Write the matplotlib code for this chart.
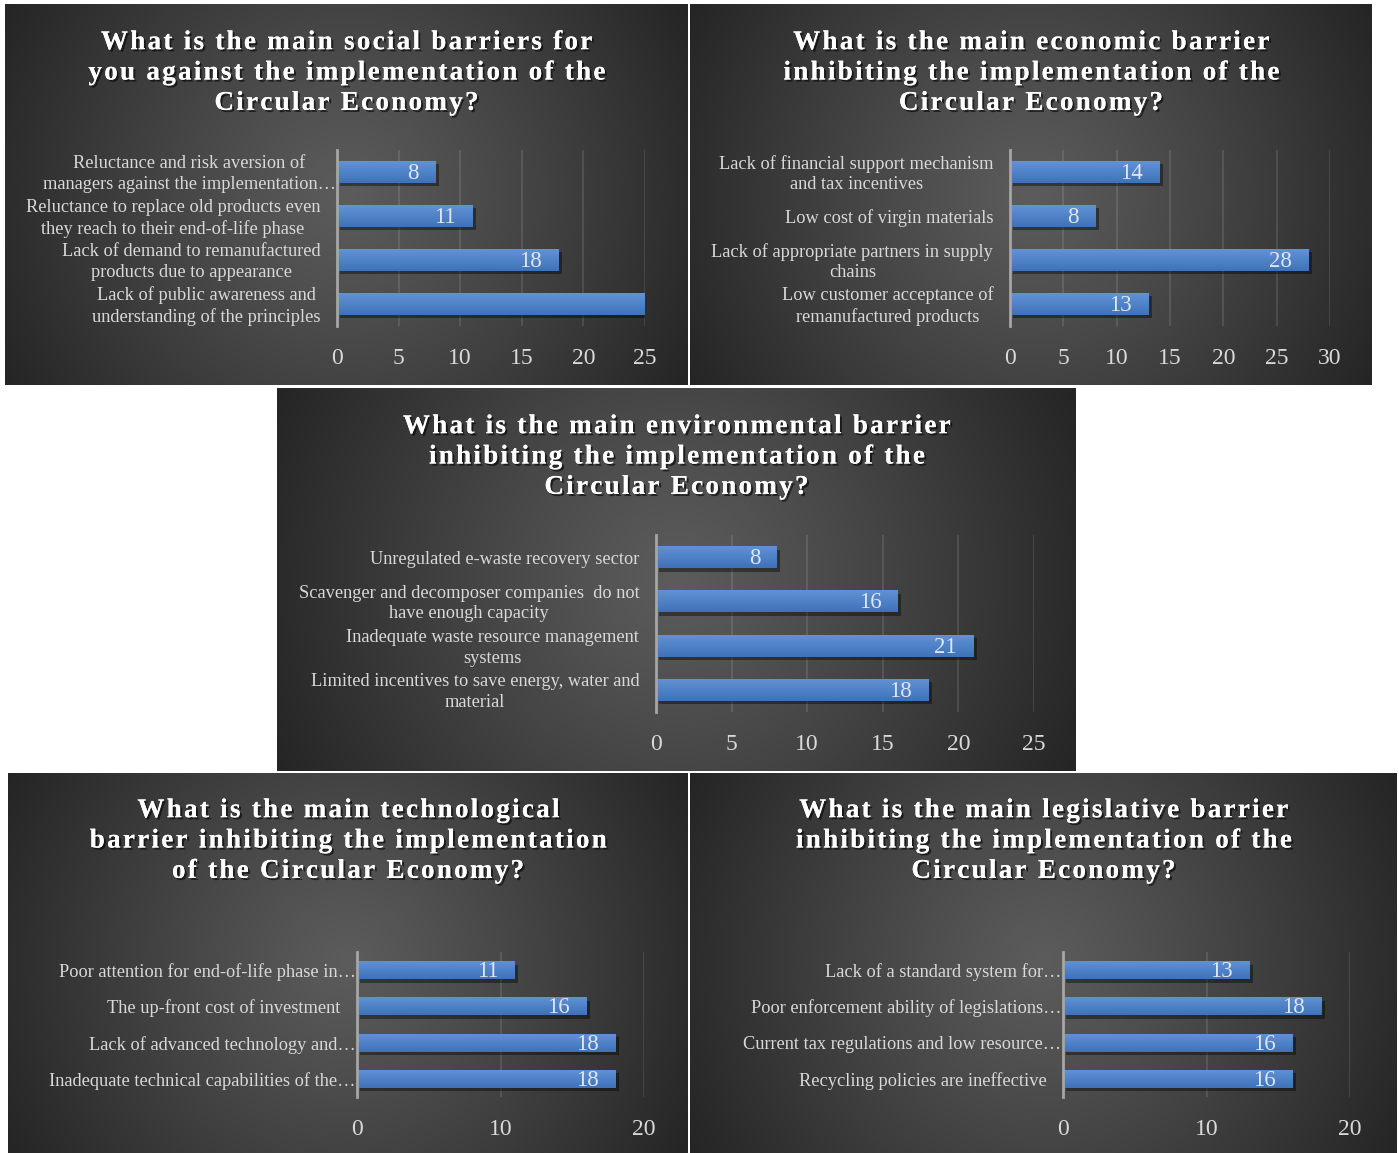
import numpy as np
import matplotlib
matplotlib.use('Agg')
import matplotlib.pyplot as plt
import matplotlib.patheffects as pe
from matplotlib.colors import LinearSegmentedColormap

# ---- data ----
social_title = 'What is the main social barriers for\nyou against the implementation of the\nCircular Economy?'
social_labels = ['Reluctance and risk aversion of\nmanagers against the implementation\u2026',
                 'Reluctance to replace old products even\nthey reach to their end-of-life phase',
                 'Lack of demand to remanufactured\nproducts due to appearance',
                 'Lack of public awareness and\nunderstanding of the principles']
social_values = [8, 11, 18, 25]
social_ticks = [0, 5, 10, 15, 20, 25]

economic_title = 'What is the main economic barrier\ninhibiting the implementation of the\nCircular Economy?'
economic_labels = ['Lack of financial support mechanism\nand tax incentives',
                   'Low cost of virgin materials',
                   'Lack of appropriate partners in supply\nchains',
                   'Low customer acceptance of\nremanufactured products']
economic_values = [14, 8, 28, 13]
economic_ticks = [0, 5, 10, 15, 20, 25, 30]

environmental_title = 'What is the main environmental barrier\ninhibiting the implementation of the\nCircular Economy?'
environmental_labels = ['Unregulated e-waste recovery sector',
                        'Scavenger and decomposer companies  do not\nhave enough capacity',
                        'Inadequate waste resource management\nsystems',
                        'Limited incentives to save energy, water and\nmaterial']
environmental_values = [8, 16, 21, 18]
environmental_ticks = [0, 5, 10, 15, 20, 25]

technological_title = 'What is the main technological\nbarrier inhibiting the implementation\nof the Circular Economy?'
technological_labels = ['Poor attention for end-of-life phase in\u2026',
                        'The up-front cost of investment',
                        'Lack of advanced technology and\u2026',
                        'Inadequate technical capabilities of the\u2026']
technological_values = [11, 16, 18, 18]
technological_ticks = [0, 10, 20]

legislative_title = 'What is the main legislative barrier\ninhibiting the implementation of the\nCircular Economy?'
legislative_labels = ['Lack of a standard system for\u2026',
                      'Poor enforcement ability of legislations\u2026',
                      'Current tax regulations and low resource\u2026',
                      'Recycling policies are ineffective']
legislative_values = [13, 18, 16, 16]
legislative_ticks = [0, 10, 20]

W, H = 1399, 1153
SERIF = ['Liberation Serif', 'DejaVu Serif']
TXT = '#d9d9d9'

bar_cmap = LinearSegmentedColormap.from_list('bar', ['#6393d6', '#3e72b9'])


def fig_rect(x0, y0, x1, y1):
    return [x0 / W, 1 - y1 / H, (x1 - x0) / W, (y1 - y0) / H]


def tracked(s):
    # hair spaces between letters to mimic the wide tracking of the titles
    return '\n'.join('\u200a'.join(line) for line in s.split('\n'))


def background(fig, box):
    x0, y0, x1, y1 = box
    w, h = x1 - x0, y1 - y0
    xx, yy = np.meshgrid(np.linspace(-w / 2, w / 2, 200), np.linspace(-h / 2, h / 2, 120))
    r = np.sqrt(xx ** 2 + yy ** 2) / np.hypot(w / 2, h / 2)
    r = np.clip(r, 0, 1) ** 1.1
    c0, c1 = np.array([0x5c, 0x5c, 0x5c]) / 255, np.array([0x25, 0x25, 0x25]) / 255
    img = c0[None, None, :] + (c1 - c0)[None, None, :] * r[:, :, None]
    ax = fig.add_axes(fig_rect(*box), zorder=0)
    ax.imshow(img, extent=[0, 1, 0, 1], aspect='auto', interpolation='bilinear')
    ax.set_axis_off()


def panel(fig, box, plot_box, title, title_y, labels, values, ticks):
    background(fig, box)
    cx = (box[0] + box[2]) / 2
    fig.text(cx / W, 1 - title_y / H, tracked(title), ha='center', va='center',
             family=SERIF, fontweight='bold', fontsize=19.5, color='white',
             linespacing=1.28, zorder=5,
             path_effects=[pe.withSimplePatchShadow(offset=(1.5, -1.5), shadow_rgbFace='black', alpha=0.6),
                           pe.Normal()])

    ax = fig.add_axes(fig_rect(*plot_box), zorder=2)
    ax.patch.set_alpha(0)
    y = np.arange(len(values))
    bars = ax.barh(y, values, height=0.5, color='#4a7fc4', zorder=3,
                   path_effects=[pe.withSimplePatchShadow(offset=(2.5, -2.5), shadow_rgbFace='black', alpha=0.4),
                                 pe.Normal()])
    grad = np.linspace(0, 1, 64).reshape(-1, 1)
    for yi, v, b in zip(y, values, bars):
        im = ax.imshow(grad, extent=[0, v, yi + 0.25, yi - 0.25], aspect='auto',
                       cmap=bar_cmap, zorder=4, interpolation='bilinear')
        im.set_clip_path(b)
        if v < ticks[-1]:
            ax.annotate(str(v), (v, yi), xytext=(-12, -1), textcoords='offset points',
                        ha='right', va='center', family=SERIF, fontsize=16.5,
                        color='#dfe6ee', zorder=6)

    # category labels: cut-off labels run up to the axis line, the rest keep a gap
    for yi, lab in zip(y, labels):
        off = -1 if lab.endswith('\u2026') else -12
        ax.annotate(lab, (0, yi), xycoords=('axes fraction', 'data'), xytext=(off, -1.5),
                    textcoords='offset points', ha='right', va='center', multialignment='center',
                    family=SERIF, fontsize=13.2, color=TXT, linespacing=1.3, zorder=6)

    ax.set_xlim(0, ticks[-1])
    ax.set_ylim(len(values) - 0.5, -0.5)
    ax.set_xticks(ticks)
    ax.set_yticks(y)
    ax.set_yticklabels([])
    ax.tick_params(axis='x', length=0, pad=16, labelsize=17, labelcolor=TXT)
    ax.tick_params(axis='y', length=0)
    for lab in ax.get_xticklabels():
        lab.set_family(SERIF)
    ax.grid(axis='x', color='white', alpha=0.13, lw=1.2, zorder=1)
    ax.set_axisbelow(True)
    for side in ['top', 'right', 'bottom']:
        ax.spines[side].set_visible(False)
    ax.spines['left'].set_color('#a6a6a6')
    ax.spines['left'].set_linewidth(2)
    ax.spines['left'].set_zorder(5)


fig = plt.figure(figsize=(W / 100, H / 100), dpi=100, facecolor='white')

panel(fig, (5, 4, 688, 385), (337, 150, 645, 326), social_title, 73,
      social_labels, social_values, social_ticks)
panel(fig, (690, 4, 1372, 385), (1010, 150, 1330, 326), economic_title, 73,
      economic_labels, economic_values, economic_ticks)
panel(fig, (277, 388, 1076, 771), (656, 535, 1034, 712), environmental_title, 457,
      environmental_labels, environmental_values, environmental_ticks)
panel(fig, (8, 773, 688, 1153), (357, 952, 644, 1097), technological_title, 841,
      technological_labels, technological_values, technological_ticks)
panel(fig, (690, 773, 1397, 1153), (1063, 952, 1350, 1097), legislative_title, 841,
      legislative_labels, legislative_values, legislative_ticks)

fig.savefig('out.png', dpi=100, facecolor='white')
